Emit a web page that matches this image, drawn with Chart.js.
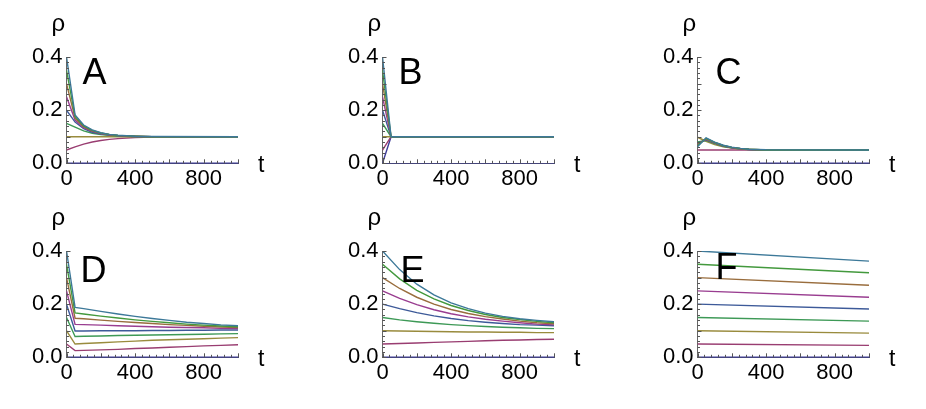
<!DOCTYPE html>
<html>
<head>
<meta charset="utf-8">
<script src="https://cdn.jsdelivr.net/npm/chart.js@4.4.1/dist/chart.umd.min.js"></script>
<style>
    body { margin: 0; background: #fff; width: 926px; height: 409px; position: relative; overflow: hidden; }
    canvas { position: absolute; }
</style>
</head>
<body>
<canvas id="panel-a" width="295" height="200" style="left:0px;top:0px"></canvas>
<canvas id="panel-b" width="295" height="200" style="left:316px;top:0px"></canvas>
<canvas id="panel-c" width="295" height="200" style="left:631px;top:0px"></canvas>
<canvas id="panel-d" width="295" height="200" style="left:0px;top:194px"></canvas>
<canvas id="panel-e" width="295" height="200" style="left:316px;top:194px"></canvas>
<canvas id="panel-f" width="295" height="200" style="left:631px;top:194px"></canvas>
<script>
// series colours, initial density 0.00 ... 0.40
const COLORS = ['#3f3d99', '#993d71', '#998b3d', '#3d9956', '#3d5a99', '#993d90', '#996d3d', '#43993d', '#3d7999'];

// panel A
const tA = [0, 50, 100, 150, 200, 250, 300, 400, 500, 1000];
const rhoA = [
    [0, 0, 0, 0, 0, 0, 0, 0, 0, 0],
    [0.05, 0.062, 0.072, 0.080, 0.086, 0.090, 0.093, 0.097, 0.099, 0.1],
    [0.1, 0.1, 0.1, 0.1, 0.1, 0.1, 0.1, 0.1, 0.1, 0.1],
    [0.15, 0.136, 0.122, 0.113, 0.108, 0.105, 0.103, 0.101, 0.1, 0.1],
    [0.2, 0.155, 0.130, 0.117, 0.110, 0.106, 0.104, 0.101, 0.1, 0.1],
    [0.25, 0.163, 0.134, 0.120, 0.112, 0.107, 0.104, 0.102, 0.1, 0.1],
    [0.3, 0.170, 0.138, 0.122, 0.113, 0.108, 0.105, 0.102, 0.1, 0.1],
    [0.35, 0.176, 0.141, 0.124, 0.114, 0.109, 0.105, 0.102, 0.1, 0.1],
    [0.4, 0.182, 0.144, 0.126, 0.115, 0.109, 0.106, 0.102, 0.101, 0.1],
];

// panel B
const tB = [0, 50, 1000];
const rhoB = [
    [0, 0.1, 0.1],
    [0.05, 0.1, 0.1],
    [0.1, 0.1, 0.1],
    [0.15, 0.1, 0.1],
    [0.2, 0.1, 0.1],
    [0.25, 0.1, 0.1],
    [0.3, 0.1, 0.1],
    [0.35, 0.1, 0.1],
    [0.4, 0.1, 0.1],
];

// panel C
const tC = [0, 50, 100, 150, 200, 250, 300, 400, 1000];
const rhoC = [
    [0, 0, 0, 0, 0, 0, 0, 0, 0],
    [0.05, 0.05, 0.05, 0.05, 0.05, 0.05, 0.05, 0.05, 0.05],
    [0.098, 0.083, 0.070, 0.062, 0.057, 0.054, 0.052, 0.050, 0.05],
    [0.080, 0.086, 0.074, 0.064, 0.058, 0.054, 0.052, 0.050, 0.05],
    [0.076, 0.088, 0.076, 0.065, 0.058, 0.055, 0.052, 0.050, 0.05],
    [0.072, 0.090, 0.077, 0.066, 0.059, 0.055, 0.052, 0.050, 0.05],
    [0.070, 0.092, 0.078, 0.067, 0.060, 0.055, 0.053, 0.050, 0.05],
    [0.066, 0.094, 0.079, 0.067, 0.060, 0.056, 0.053, 0.050, 0.05],
    [0.062, 0.096, 0.080, 0.068, 0.061, 0.056, 0.053, 0.051, 0.05],
];

// panel D
const tD = [0, 50, 100, 200, 300, 400, 500, 600, 700, 800, 900, 1000];
const rhoD = [
    [0, 0, 0, 0, 0, 0, 0, 0, 0, 0, 0, 0],
    [0.05, 0.025, 0.026, 0.028, 0.030, 0.033, 0.035, 0.038, 0.040, 0.043, 0.045, 0.047],
    [0.1, 0.050, 0.052, 0.055, 0.058, 0.061, 0.064, 0.066, 0.068, 0.070, 0.072, 0.074],
    [0.15, 0.078, 0.079, 0.080, 0.082, 0.083, 0.084, 0.085, 0.086, 0.087, 0.088, 0.089],
    [0.2, 0.099, 0.099, 0.100, 0.100, 0.100, 0.101, 0.101, 0.102, 0.102, 0.103, 0.103],
    [0.25, 0.124, 0.123, 0.121, 0.119, 0.117, 0.115, 0.113, 0.112, 0.111, 0.109, 0.108],
    [0.3, 0.147, 0.145, 0.140, 0.135, 0.131, 0.127, 0.123, 0.120, 0.117, 0.114, 0.112],
    [0.35, 0.167, 0.163, 0.155, 0.148, 0.141, 0.135, 0.130, 0.125, 0.121, 0.118, 0.115],
    [0.4, 0.188, 0.183, 0.173, 0.163, 0.154, 0.146, 0.139, 0.132, 0.127, 0.122, 0.119],
];

// panel E
const tE = [0, 100, 200, 300, 400, 500, 600, 700, 800, 900, 1000];
const rhoE = [
    [0, 0, 0, 0, 0, 0, 0, 0, 0, 0, 0],
    [0.05, 0.052, 0.054, 0.056, 0.058, 0.060, 0.062, 0.064, 0.065, 0.067, 0.068],
    [0.1, 0.099, 0.098, 0.097, 0.096, 0.095, 0.095, 0.094, 0.094, 0.093, 0.093],
    [0.15, 0.141, 0.134, 0.128, 0.123, 0.119, 0.116, 0.113, 0.111, 0.109, 0.108],
    [0.2, 0.183, 0.168, 0.156, 0.146, 0.138, 0.132, 0.127, 0.123, 0.121, 0.119],
    [0.25, 0.222, 0.198, 0.179, 0.164, 0.152, 0.143, 0.136, 0.130, 0.125, 0.122],
    [0.3, 0.259, 0.226, 0.200, 0.180, 0.165, 0.153, 0.144, 0.136, 0.130, 0.126],
    [0.35, 0.295, 0.252, 0.220, 0.195, 0.176, 0.161, 0.150, 0.142, 0.135, 0.130],
    [0.4, 0.330, 0.275, 0.235, 0.205, 0.183, 0.166, 0.154, 0.145, 0.139, 0.134],
];

// panel F
const tF = [0, 1000];
const rhoF = [
    [0, 0],
    [0.05, 0.045],
    [0.1, 0.091],
    [0.15, 0.136],
    [0.2, 0.182],
    [0.25, 0.226],
    [0.3, 0.271],
    [0.35, 0.318],
    [0.4, 0.362],
];

const FONT = '"Liberation Sans", Arial, Helvetica, sans-serif';
Chart.defaults.font.family = FONT;
Chart.defaults.font.size = 22;
Chart.defaults.color = '#000';

// Mathematica style: ticks point into the plot, plus the ρ / t / panel letters
const panelDecor = {
    id: 'panelDecor',
    afterDraw(chart, args, opts) {
        const { ctx, chartArea: area, scales } = chart;
        ctx.save();
        ctx.strokeStyle = '#555';
        ctx.lineWidth = 1;
        scales.x.ticks.forEach((tick) => {
            const px = Math.round(scales.x.getPixelForValue(tick.value)) + 0.5;
            const len = tick.value % 200 === 0 ? 4 : 2.5;
            ctx.beginPath();
            ctx.moveTo(px, area.bottom);
            ctx.lineTo(px, area.bottom - len);
            ctx.stroke();
        });
        scales.y.ticks.forEach((tick) => {
            const py = Math.round(scales.y.getPixelForValue(tick.value)) + 0.5;
            const len = Math.round(tick.value * 100) % 10 === 0 ? 4 : 2.5;
            ctx.beginPath();
            ctx.moveTo(area.left, py);
            ctx.lineTo(area.left + len, py);
            ctx.stroke();
        });

        ctx.fillStyle = '#000';
        ctx.textAlign = 'left';
        ctx.textBaseline = 'alphabetic';
        ctx.font = `24px ${FONT}`;
        ctx.fillText('ρ', area.left - 15, area.top - 26);
        ctx.font = `23px ${FONT}`;
        ctx.fillText('t', area.right + 20, area.bottom + 9);
        ctx.font = `36px ${FONT}`;
        ctx.fillText(opts.letter, area.left + opts.letterX, area.top + opts.letterY);
        ctx.restore();
    },
};

function makePanel(id, letter, letterX, letterY, times, series) {
    const datasets = series.map((values, i) => ({
        label: `ρ0 = ${(i * 0.05).toFixed(2)}`,
        data: times.map((t, j) => ({ x: t, y: values[j] })),
        borderColor: COLORS[i],
        borderWidth: 1.4,
        pointRadius: 0,
        tension: 0,
        fill: false,
        order: series.length - 1 - i,
    }));

    return new Chart(document.getElementById(id), {
        type: 'line',
        data: { datasets },
        options: {
            responsive: false,
            animation: false,
            layout: { padding: { left: 0, top: 57, right: 57, bottom: 0 } },
            plugins: {
                legend: { display: false },
                tooltip: { enabled: false },
                panelDecor: { letter, letterX, letterY },
            },
            scales: {
                x: {
                    type: 'linear',
                    min: 0,
                    max: 1000,
                    afterFit: (scale) => { scale.height = 36.7; },
                    grid: { display: false, drawTicks: false },
                    border: { display: true, color: '#45457a', width: 1 },
                    ticks: {
                        stepSize: 40,
                        autoSkip: false,
                        maxRotation: 0,
                        padding: 2,
                        callback: (v) => (v % 400 === 0 && v < 1000 ? String(v) : ''),
                    },
                },
                y: {
                    type: 'linear',
                    min: 0,
                    max: 0.4,
                    afterFit: (scale) => { scale.width = 66.5; },
                    grid: { display: false, drawTicks: false },
                    border: { display: true, color: '#666', width: 1 },
                    ticks: {
                        stepSize: 0.02,
                        autoSkip: false,
                        padding: 4,
                        callback: (v) => (Math.round(v * 100) % 20 === 0 ? v.toFixed(1) : ''),
                    },
                },
            },
        },
        plugins: [panelDecor],
    });
}

makePanel('panel-a', 'A', 16, 27, tA, rhoA);
makePanel('panel-b', 'B', 16, 27, tB, rhoB);
makePanel('panel-c', 'C', 18, 27, tC, rhoC);
makePanel('panel-d', 'D', 14, 31, tD, rhoD);
makePanel('panel-e', 'E', 18, 31, tE, rhoE);
makePanel('panel-f', 'F', 18, 28, tF, rhoF);
</script>
</body>
</html>
